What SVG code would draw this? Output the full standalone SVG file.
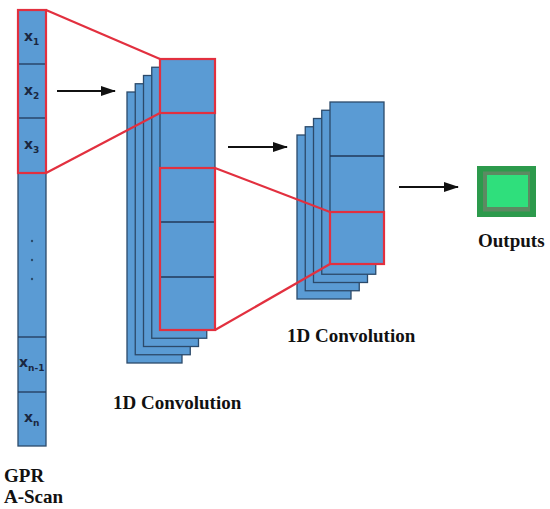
<svg xmlns="http://www.w3.org/2000/svg" width="550" height="509" viewBox="0 0 550 509">
<defs>
<style>
.cell{fill:#5a9bd4;stroke:#2c4a6a;stroke-width:1.3}
.div{stroke:#22395a;stroke-width:1.3}
.red{fill:none;stroke:#e2303f;stroke-width:2.2}
.lbl{font-family:"Liberation Serif",serif;font-weight:bold;font-size:19px;fill:#111}
.x{font-family:"DejaVu Sans","Liberation Sans",sans-serif;font-weight:bold;font-size:14px;fill:#1a2740}
.sub{font-size:9px}
.dot{fill:#2c4a6a}
</style>
<marker id="ah" markerWidth="15" markerHeight="10" refX="14" refY="5" orient="auto" markerUnits="userSpaceOnUse">
<path d="M0,0 L15,5 L0,10 Z" fill="#111"/>
</marker>
</defs>
<rect width="550" height="509" fill="#fff"/>

<g id="input">
<rect class="cell" x="18" y="10" width="28" height="436"/>
<line class="div" x1="18" y1="64" x2="46" y2="64"/>
<line class="div" x1="18" y1="118" x2="46" y2="118"/>
<line class="div" x1="18" y1="173" x2="46" y2="173"/>
<line class="div" x1="18" y1="337" x2="46" y2="337"/>
<line class="div" x1="18" y1="392" x2="46" y2="392"/>
<circle class="dot" cx="32" cy="241" r="1.2"/>
<circle class="dot" cx="32" cy="260" r="1.2"/>
<circle class="dot" cx="32" cy="279" r="1.2"/>
<text class="x" x="24" y="41">x<tspan class="sub" dy="4">1</tspan></text>
<text class="x" x="24" y="95">x<tspan class="sub" dy="4">2</tspan></text>
<text class="x" x="24" y="149">x<tspan class="sub" dy="4">3</tspan></text>
<text class="x" x="19" y="367">x<tspan class="sub" dy="4">n-1</tspan></text>
<text class="x" x="24" y="422">x<tspan class="sub" dy="4">n</tspan></text>
<rect class="red" x="18" y="10" width="28" height="163"/>
</g>

<g id="conv1">
<rect class="cell" x="127" y="92" width="55" height="271"/>
<rect class="cell" x="135.25" y="83.75" width="55" height="271"/>
<rect class="cell" x="143.5" y="75.5" width="55" height="271"/>
<rect class="cell" x="151.75" y="67.25" width="55" height="271"/>
<rect class="cell" x="160" y="59" width="55" height="271"/>
<line class="div" x1="160" y1="113" x2="215" y2="113"/>
<line class="div" x1="160" y1="168" x2="215" y2="168"/>
<line class="div" x1="160" y1="222" x2="215" y2="222"/>
<line class="div" x1="160" y1="277" x2="215" y2="277"/>
<rect class="red" x="160" y="59" width="55" height="54"/>
<rect class="red" x="160" y="168" width="55" height="162"/>
</g>

<g id="conv2">
<rect class="cell" x="297" y="135" width="54" height="164"/>
<rect class="cell" x="305.25" y="126.75" width="54" height="164"/>
<rect class="cell" x="313.5" y="118.5" width="54" height="164"/>
<rect class="cell" x="321.75" y="110.25" width="54" height="164"/>
<rect class="cell" x="330" y="102" width="54" height="162"/>
<line class="div" x1="330" y1="156" x2="384" y2="156"/>
<rect class="red" x="330" y="212" width="54" height="52"/>
</g>

<g id="output">
<rect x="477" y="166" width="59" height="51" fill="#2c9a4c"/>
<rect x="483" y="171.5" width="47" height="40" fill="#5c8a62"/>
<rect x="487" y="175" width="41" height="32" fill="#2fdf7c"/>
</g>

<g id="connectors">
<line class="red" x1="46" y1="10" x2="160" y2="59"/>
<line class="red" x1="46" y1="173" x2="160" y2="113"/>
<line class="red" x1="215" y1="168" x2="330" y2="212"/>
<line class="red" x1="215" y1="330" x2="330" y2="264"/>
<line x1="57" y1="91" x2="115" y2="91" stroke="#111" stroke-width="2" marker-end="url(#ah)"/>
<line x1="228" y1="147" x2="287" y2="147" stroke="#111" stroke-width="2" marker-end="url(#ah)"/>
<line x1="399" y1="187" x2="458" y2="187" stroke="#111" stroke-width="2" marker-end="url(#ah)"/>
</g>

<g id="labels">
<text class="lbl" x="113" y="409">1D Convolution</text>
<text class="lbl" x="287" y="342">1D Convolution</text>
<text class="lbl" x="478" y="247">Outputs</text>
<text class="lbl" x="4" y="482">GPR</text>
<text class="lbl" x="4" y="503">A-Scan</text>
</g>
</svg>
